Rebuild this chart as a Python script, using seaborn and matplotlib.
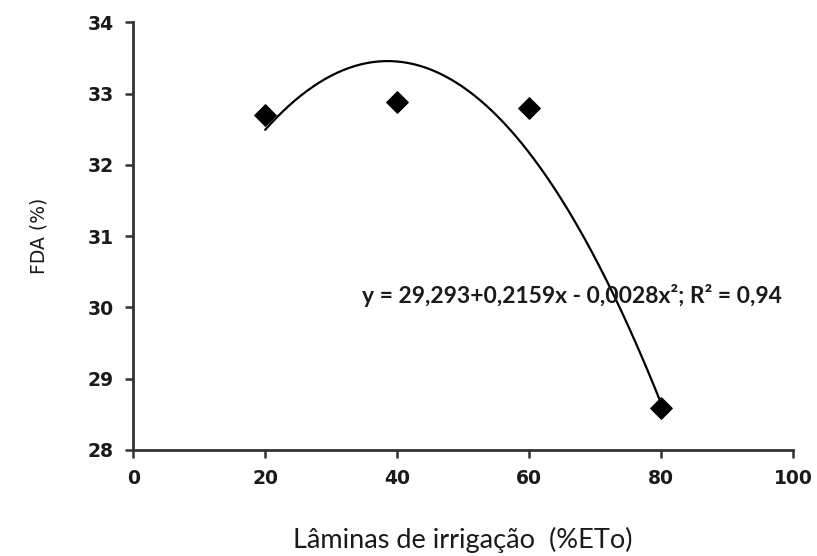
import numpy as np
import pandas as pd
import matplotlib
matplotlib.use('Agg')
import matplotlib.pyplot as plt
import seaborn as sns

# Observed values
laminas = [20, 40, 60, 80]
fda = [32.7, 32.88, 32.8, 28.58]

# Quadratic fit coefficients (from the equation on the chart)
b0, b1, b2 = 29.293, 0.2159, -0.0028
equation = "y = 29,293+0,2159x - 0,0028x²; R² = 0,94"

x_ticks = [0, 20, 40, 60, 80, 100]
y_ticks = [28, 29, 30, 31, 32, 33, 34]

df = pd.DataFrame({'Lamina': laminas, 'FDA': fda})
xs = np.linspace(min(laminas), max(laminas), 200)
fit = pd.DataFrame({'Lamina': xs, 'FDA': b0 + b1 * xs + b2 * xs ** 2})

sns.set_style('white')
plt.rcParams['font.family'] = ['Lato', 'DejaVu Sans']

fig = plt.figure(figsize=(8.17, 5.56), dpi=100)
ax = fig.add_axes([0.163, 0.191, 0.808, 0.769])

sns.lineplot(data=fit, x='Lamina', y='FDA', color='black', linewidth=1.6, ax=ax)
sns.scatterplot(data=df, x='Lamina', y='FDA', marker='D', s=120, color='black',
                edgecolor='black', zorder=3, ax=ax)

ax.set_xlim(0, 100)
ax.set_ylim(28, 34)
ax.set_xticks(x_ticks)
ax.set_yticks(y_ticks)
ax.tick_params(direction='out', length=6, width=1.8, color='#333333',
               labelsize=13.5, pad=8, bottom=True, left=True)
for lab in ax.get_xticklabels() + ax.get_yticklabels():
    lab.set_fontweight('bold')
    lab.set_color('#1a1a1a')
    lab.set_family(['DejaVu Sans'])

sns.despine(ax=ax)
for side in ['left', 'bottom']:
    ax.spines[side].set_linewidth(2)
    ax.spines[side].set_color('#333333')

ax.set_xlabel('Lâminas de irrigação  (%ETo)', fontsize=19.5, color='#1a1a1a', labelpad=28)
ax.set_ylabel('FDA (%)', fontsize=13.5, color='#1a1a1a', labelpad=28,
              family=['DejaVu Sans'])

ax.text(34.6, 30.16, equation, fontsize=16.5, fontweight='bold', color='#1a1a1a',
        va='center', ha='left')

fig.savefig('out.png', dpi=100)
